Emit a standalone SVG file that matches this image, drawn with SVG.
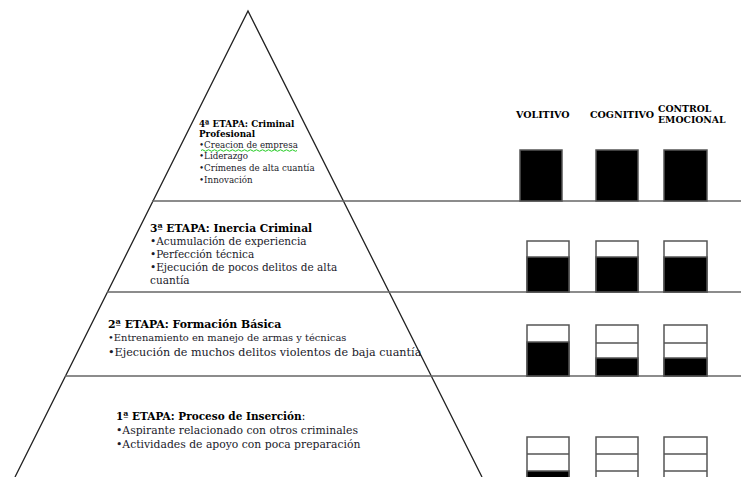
<svg xmlns="http://www.w3.org/2000/svg" width="741" height="477" viewBox="0 0 741 477">
<style>
.tri{fill:none;stroke:#222;stroke-width:1.3}
.hl{stroke:#666;stroke-width:1.5}
.box{fill:#fff;stroke:#555;stroke-width:1.5}
.blk{fill:#000;stroke:#555;stroke-width:1.5}
.div{stroke:#555;stroke-width:1.5}
.h{font-family:"DejaVu Serif","Liberation Serif",serif;font-weight:bold;fill:#000}
.b{font-family:"DejaVu Serif","Liberation Serif",serif;fill:#1a1a2a}
</style>
<rect width="741" height="477" fill="#fff"/>
<g id="connectors">
<polyline class="tri" points="15,477 248,11 482,477"/>
<line class="hl" x1="152" y1="201" x2="741" y2="201"/>
<line class="hl" x1="107" y1="292" x2="741" y2="292"/>
<line class="hl" x1="65" y1="376" x2="741" y2="376"/>
</g>
<g id="headers">
<text class="h" x="516" y="118" font-size="9.5">VOLITIVO</text>
<text class="h" x="590" y="118" font-size="9.5">COGNITIVO</text>
<text class="h" x="658" y="112" font-size="9.3">CONTROL</text>
<text class="h" x="658" y="123" font-size="9.3">EMOCIONAL</text>
</g>
<g id="etapa4">
<text class="h" x="199" y="127" font-size="8.8">4ª ETAPA: Criminal</text>
<text class="h" x="199" y="137" font-size="8.8">Profesional</text>
<text class="b" x="199" y="148" font-size="8.7">•Creacion de empresa</text>
<path d="M201,150.5 q1.5,-1.5 3,0 t3,0 t3,0 t3,0 t3,0 t3,0 t3,0 t3,0 t3,0 t3,0 t3,0 t3,0 t3,0 t3,0 t3,0 t3,0 t3,0 t3,0 t3,0 t3,0 t3,0 t3,0 t3,0 t3,0 t3,0 t3,0 t3,0 t3,0 t3,0 t3,0 t3,0 t3,0" fill="none" stroke="#22cc22" stroke-width="1"/>
<text class="b" x="199" y="159" font-size="8.7">•Liderazgo</text>
<text class="b" x="199" y="171" font-size="8.7">•Crímenes de alta cuantía</text>
<text class="b" x="199" y="183" font-size="8.7">•Innovación</text>
</g>
<g id="etapa3">
<text class="h" x="150" y="232" font-size="10.7">3ª ETAPA: Inercia Criminal</text>
<text class="b" x="150" y="245" font-size="10.5">•Acumulación de experiencia</text>
<text class="b" x="150" y="258" font-size="10.5">•Perfección técnica</text>
<text class="b" x="150" y="271" font-size="10.5">•Ejecución de pocos delitos de alta</text>
<text class="b" x="150" y="284" font-size="10.5">cuantía</text>
</g>
<g id="etapa2">
<text class="h" x="108" y="328" font-size="10.9">2ª ETAPA: Formación Básica</text>
<text class="b" x="108" y="341" font-size="9.9">•Entrenamiento en manejo de armas y técnicas</text>
<text class="b" x="108" y="356" font-size="11.2">•Ejecución de muchos delitos violentos de baja cuantía</text>
</g>
<g id="etapa1">
<text class="h" x="116" y="420" font-size="10.5">1ª ETAPA: Proceso de Inserción<tspan font-weight="normal">:</tspan></text>
<text class="b" x="116" y="434" font-size="10.8">•Aspirante relacionado con otros criminales</text>
<text class="b" x="116" y="448" font-size="10.8">•Actividades de apoyo con poca preparación</text>
</g>
<g id="row4bars">
<rect class="blk" x="520" y="150" width="42" height="51"/>
<rect class="blk" x="596" y="150" width="42" height="51"/>
<rect class="blk" x="664" y="150" width="43" height="51"/>
</g>
<g id="row3bars">
<rect class="box" x="527" y="241" width="42" height="51"/>
<rect class="blk" x="527" y="257" width="42" height="35"/>
<rect class="box" x="596" y="241" width="42" height="51"/>
<rect class="blk" x="596" y="257" width="42" height="35"/>
<rect class="box" x="664" y="241" width="43" height="51"/>
<rect class="blk" x="664" y="257" width="43" height="35"/>
</g>
<g id="row2bars">
<rect class="box" x="527" y="325" width="42" height="51"/>
<rect class="blk" x="527" y="342" width="42" height="34"/>
<rect class="box" x="596" y="325" width="42" height="51"/>
<line class="div" x1="596" y1="343" x2="638" y2="343"/>
<rect class="blk" x="596" y="358" width="42" height="18"/>
<rect class="box" x="664" y="325" width="43" height="51"/>
<line class="div" x1="664" y1="343" x2="707" y2="343"/>
<rect class="blk" x="664" y="358" width="43" height="18"/>
</g>
<g id="row1bars">
<rect class="box" x="527" y="437" width="42" height="51"/>
<line class="div" x1="527" y1="454" x2="569" y2="454"/>
<rect class="blk" x="527" y="471" width="42" height="17"/>
<rect class="box" x="596" y="437" width="42" height="51"/>
<line class="div" x1="596" y1="454" x2="638" y2="454"/>
<line class="div" x1="596" y1="471" x2="638" y2="471"/>
<rect class="box" x="664" y="437" width="43" height="51"/>
<line class="div" x1="664" y1="454" x2="707" y2="454"/>
<line class="div" x1="664" y1="471" x2="707" y2="471"/>
</g>
</svg>
